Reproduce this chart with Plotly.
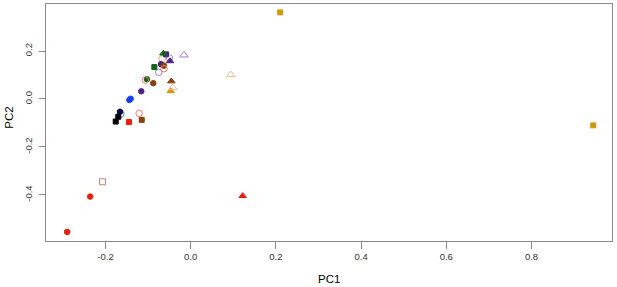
import plotly.graph_objects as go

# ---- data ----
pc1 = [0.210, 0.945, -0.047, 0.094, -0.042, -0.067, -0.016, -0.050, -0.075,
       -0.058, -0.0486, -0.0697, -0.116, -0.064, -0.0854, -0.1026, -0.0627,
       -0.088, -0.0455, -0.115, -0.144, -0.141, -0.164, -0.166, -0.170,
       -0.176, -0.145, -0.236, -0.290, 0.122, -0.121, -0.1066, -0.0627, -0.207]
pc2 = [0.361, -0.110, 0.033, 0.101, 0.047, 0.167, 0.183, 0.171, 0.111,
       0.186, 0.158, 0.145, 0.032, 0.190, 0.133, 0.082, 0.139,
       0.066, 0.074, -0.087, -0.004, 0.001, -0.0625, -0.053, -0.074,
       -0.094, -0.096, -0.407, -0.554, -0.404, -0.060, 0.079, 0.126, -0.345]
group = ["gold", "gold", "gold", "peach", "peach", "sand", "lavender", "lavender", "lavender",
         "indigo", "indigo", "indigo", "indigo", "green", "green", "green", "brown",
         "brown", "brown", "brown", "blue", "blue", "lightblue", "navy", "black",
         "black", "red", "red", "red", "red", "salmon", "salmon", "salmon", "rosy"]
shape = ["sq", "sq", "tri", "tri_o", "tri_o", "circ_o", "tri_o", "circ_o", "circ_o",
         "sq", "tri", "circ", "circ", "tri", "sq", "circ", "circ",
         "circ", "tri", "sq", "circ", "circ", "circ_o", "circ", "sq",
         "sq", "sq", "circ", "circ", "tri", "circ_o", "circ_o", "circ_o", "sq_o"]

x_ticks = [-0.2, 0.0, 0.2, 0.4, 0.6, 0.8]
x_tick_labels = ["-0.2", "0.0", "0.2", "0.4", "0.6", "0.8"]
y_ticks = [-0.4, -0.2, 0.0, 0.2]
y_tick_labels = ["-0.4", "-0.2", "0.0", "0.2"]

# ---- styles ----
colors = {
    "gold": "#D4960C", "peach": "#F0B88C", "sand": "#E0BE70", "lavender": "#A080D8",
    "indigo": "#4E2288", "green": "#146414", "brown": "#87400F", "blue": "#1040F0",
    "lightblue": "#5A7CF0", "navy": "#08083C", "black": "#000000", "red": "#EC1C0C",
    "salmon": "#F07C6C", "rosy": "#B88878",
}
symbols = {"sq": "square", "tri": "triangle-up", "tri_o": "triangle-up-open",
           "circ": "circle", "circ_o": "circle-open", "sq_o": "square-open"}
sizes = {"sq": 5, "tri": 6.5, "tri_o": 7.5, "circ": 5.5, "circ_o": 6.5, "sq_o": 6}

fig = go.Figure()
fig.add_trace(go.Scatter(
    x=pc1, y=pc2, mode="markers",
    marker=dict(
        color=[colors[g] for g in group],
        symbol=[symbols[s] for s in shape],
        size=[sizes[s] for s in shape],
        opacity=1,
        line=dict(width=1, color=[colors[g] for g in group]),
    ),
    showlegend=False,
))

axis_font = dict(family="Liberation Sans, Arial, sans-serif", size=9.5, color="#333333")
fig.update_xaxes(
    range=[-0.3397, 0.989], showgrid=False, zeroline=False,
    showline=True, mirror=True, linecolor="#8a8a8a", linewidth=1,
    ticks="outside", ticklen=7, tickcolor="#8a8a8a",
    tickvals=x_ticks, ticktext=x_tick_labels, tickfont=axis_font,
)
fig.update_yaxes(
    range=[-0.592, 0.396], showgrid=False, zeroline=False,
    showline=True, mirror=True, linecolor="#8a8a8a", linewidth=1,
    ticks="outside", ticklen=6, tickcolor="#8a8a8a",
    tickvals=y_ticks, ticktext=y_tick_labels, tickfont=axis_font, tickangle=-90,
    ticklabelstandoff=3,
)

title_font = dict(family="Liberation Sans, Arial, sans-serif", size=11.5, color="#000000")
fig.add_annotation(text="PC1", xref="paper", yref="paper", x=0.5, y=-0.160,
                   xanchor="center", yanchor="middle", showarrow=False, font=title_font)
fig.add_annotation(text="PC2", xref="paper", yref="paper", x=-0.0654, y=0.52,
                   xanchor="center", yanchor="middle", showarrow=False, font=title_font,
                   textangle=-90)

fig.update_layout(
    width=617, height=287,
    margin=dict(l=46, r=5, t=4, b=46),
    paper_bgcolor="white", plot_bgcolor="white",
)
fig.write_html("out.html",
               config={"displayModeBar": False},
               post_script="document.body.style.margin='0';document.body.style.padding='0';")
